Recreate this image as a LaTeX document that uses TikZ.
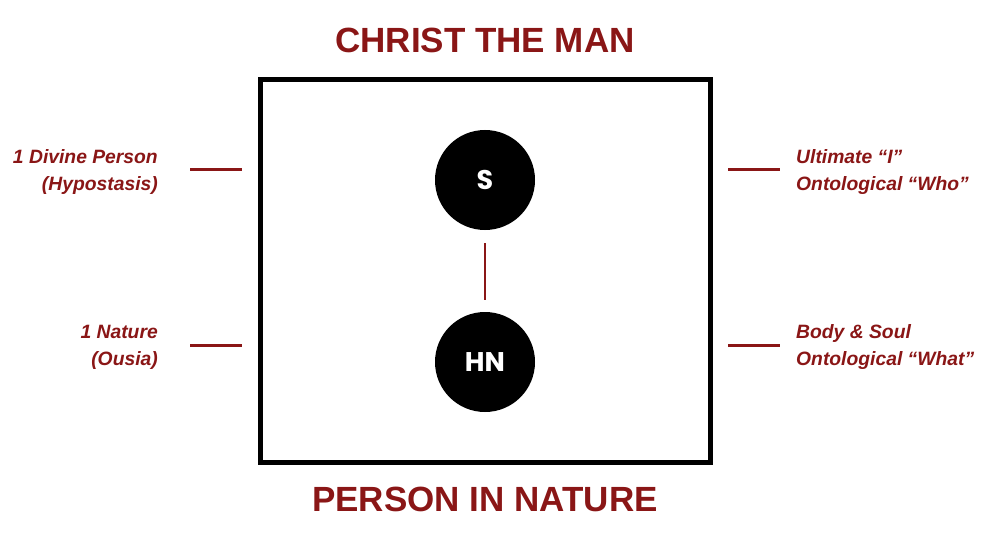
\documentclass[tikz,border=0pt]{standalone}
\usepackage{fontspec}
\setmainfont{Liberation Sans}
\newfontfamily\headfont{Poppins}
\usetikzlibrary{positioning}
\definecolor{darkred}{RGB}{138,22,22}
\tikzset{
    heading/.style={font=\bfseries\fontsize{35}{38}\selectfont, text=darkred},
    dot/.style={circle, fill=black, text=white, minimum size=100pt, inner sep=0pt,
        font=\headfont\bfseries\fontsize{27}{30}\selectfont},
    lbl/.style={font=\bfseries\itshape\fontsize{19.3}{27}\selectfont, text=darkred, inner sep=0pt},
    tick/.style={darkred, line width=3pt},
}
\begin{document}
\begin{tikzpicture}[x=1pt, y=-1pt]
    \useasboundingbox[fill=white] (0, 0) rectangle (1000, 540);
    \node[heading] (top) at (485, 40) {CHRIST THE MAN};
    \node[heading] (bottom) at (485, 499.5) {PERSON IN NATURE};
    \draw[line width=5pt] (260, 80) rectangle (710, 462);
    % the two natures
    \node[dot] (S) at (485, 180) {S};
    \node[dot] (HN) at (485, 362) {HN};
    \draw[darkred, line width=2.5pt, shorten <=13pt, shorten >=12pt] (S) -- (HN);
    % left side
    \node[lbl, align=right, anchor=east] (person) at (158, 172.5) {1 Divine Person\\(Hypostasis)};
    \node[lbl, align=right, anchor=east] (nature) at (158, 347.5) {1 Nature\\(Ousia)};
    \coordinate (pa) at (190, 170);
    \coordinate (pb) at (242, 170);
    \coordinate (na) at (190, 345);
    \coordinate (nb) at (242, 345);
    \draw[tick] (pa) -- (pb);
    \draw[tick] (na) -- (nb);
    % right side
    \node[lbl, align=left, anchor=west] (who) at (796, 172.5) {Ultimate “I”\\Ontological “Who”};
    \node[lbl, align=left, anchor=west] (what) at (796, 347.5) {Body \& Soul\\Ontological “What”};
    \coordinate (wa) at (728, 170);
    \coordinate (wb) at (780, 170);
    \coordinate (ta) at (728, 345);
    \coordinate (tb) at (780, 345);
    \draw[tick] (wa) -- (wb);
    \draw[tick] (ta) -- (tb);
\end{tikzpicture}
\end{document}
